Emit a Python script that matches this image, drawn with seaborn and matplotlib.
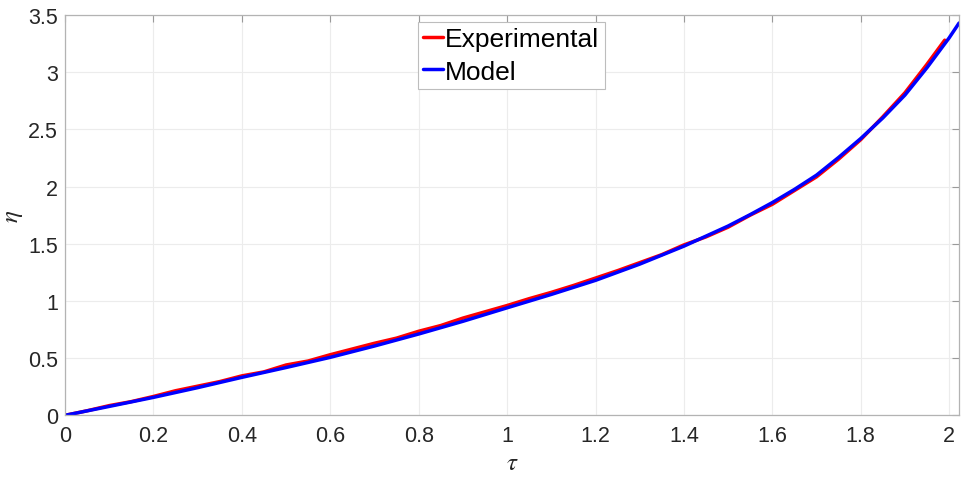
import numpy as np
import pandas as pd
import matplotlib
matplotlib.use("Agg")
import matplotlib.pyplot as plt
import seaborn as sns

# Model curve
tau_model = [0.0, 0.1, 0.2, 0.3, 0.4, 0.5, 0.6, 0.7, 0.8, 0.9, 1.0, 1.1, 1.2, 1.3,
             1.4, 1.5, 1.55, 1.6, 1.65, 1.7, 1.75, 1.8, 1.85, 1.9, 1.95, 2.0, 2.0225]
eta_model = [0.0, 0.078, 0.157, 0.242, 0.332, 0.418, 0.507, 0.606, 0.711, 0.822, 0.940,
             1.057, 1.180, 1.322, 1.479, 1.655, 1.755, 1.860, 1.975, 2.100, 2.255, 2.420,
             2.600, 2.800, 3.040, 3.300, 3.430]

# Experimental curve
tau_exp = [0.0, 0.05, 0.10, 0.15, 0.20, 0.25, 0.30, 0.35, 0.40, 0.45, 0.50, 0.55, 0.60,
           0.65, 0.70, 0.75, 0.80, 0.85, 0.90, 0.95, 1.00, 1.05, 1.10, 1.15, 1.20, 1.25,
           1.30, 1.35, 1.40, 1.45, 1.50, 1.55, 1.60, 1.65, 1.70, 1.75, 1.80, 1.85, 1.90,
           1.95, 1.99]
eta_exp = [0.0, 0.040, 0.085, 0.120, 0.165, 0.215, 0.255, 0.295, 0.345, 0.380, 0.440,
           0.475, 0.530, 0.580, 0.630, 0.675, 0.735, 0.785, 0.850, 0.905, 0.960, 1.020,
           1.075, 1.135, 1.200, 1.265, 1.335, 1.405, 1.490, 1.560, 1.645, 1.750, 1.845,
           1.965, 2.085, 2.240, 2.410, 2.610, 2.820, 3.070, 3.280]

x_ticks = [0, 0.2, 0.4, 0.6, 0.8, 1.0, 1.2, 1.4, 1.6, 1.8, 2.0]
x_tick_labels = ["0", "0.2", "0.4", "0.6", "0.8", "1", "1.2", "1.4", "1.6", "1.8", "2"]
y_ticks = [0, 0.5, 1.0, 1.5, 2.0, 2.5, 3.0, 3.5]
y_tick_labels = ["0", "0.5", "1", "1.5", "2", "2.5", "3", "3.5"]

sns.set_style("white")
plt.rcParams["font.family"] = ["Liberation Sans", "DejaVu Sans"]
plt.rcParams["mathtext.fontset"] = "stix"

df_exp = pd.DataFrame({"tau": tau_exp, "eta": eta_exp})
df_mod = pd.DataFrame({"tau": tau_model, "eta": eta_model})

fig = plt.figure(figsize=(9.61, 4.85), dpi=100)
ax = fig.add_axes([0.0677, 0.1416, 0.9303, 0.8254])

sns.lineplot(data=df_exp, x="tau", y="eta", ax=ax, color="#ff0000", lw=2.5,
             label="Experimental", sort=False, estimator=None)
sns.lineplot(data=df_mod, x="tau", y="eta", ax=ax, color="#0000ff", lw=2.5,
             label="Model", sort=False, estimator=None)

ax.set_xlim(0, 2.0225)
ax.set_ylim(0, 3.5)
ax.set_xticks(x_ticks)
ax.set_xticklabels(x_tick_labels)
ax.set_yticks(y_ticks)
ax.set_yticklabels(y_tick_labels)

ax.grid(True, color="#ececec", lw=0.8)
for s in ax.spines.values():
    s.set_visible(True)
    s.set_color("#b3b3b3")
    s.set_linewidth(0.9)
ax.tick_params(axis="both", direction="in", length=5, width=0.8, color="#9a9a9a",
               labelsize=15.5, labelcolor="#262626", top=True, right=True)
ax.tick_params(axis="x", pad=7)
ax.tick_params(axis="y", pad=5)

ax.set_xlabel(r"$\tau$", fontsize=18, color="#262626", labelpad=3)
ax.set_ylabel(r"$\eta$", fontsize=18, color="#262626")
ax.yaxis.set_label_coords(-0.045, 0.5)

leg = ax.legend(loc="upper center", bbox_to_anchor=(0.499, 1.0), fontsize=19,
                frameon=True, fancybox=False, framealpha=1, edgecolor="#bdbdbd",
                handlelength=0.75, handletextpad=0.1, borderpad=0.2,
                labelspacing=0.33, borderaxespad=0.25)
leg.get_frame().set_linewidth(0.8)
for t in leg.get_texts():
    t.set_color("black")

fig.savefig("out.png", dpi=100)
